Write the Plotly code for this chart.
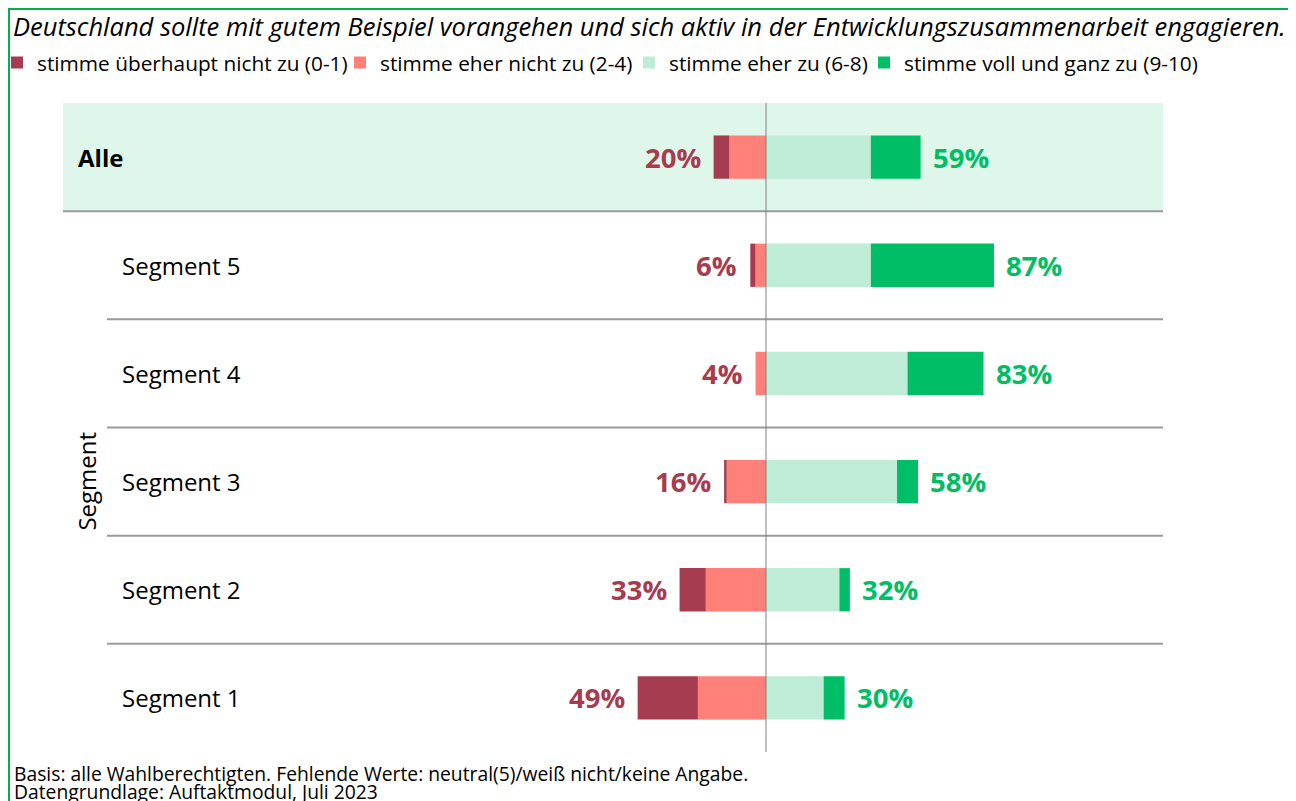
import plotly.graph_objects as go

# ---- data ----
categories = ["Segment 1", "Segment 2", "Segment 3", "Segment 4", "Segment 5", "Alle"]
stark_ablehnung = [23, 10, 1, 0, 2, 6]      # stimme überhaupt nicht zu (0-1)
eher_ablehnung = [26, 23, 15, 4, 4, 14]     # stimme eher nicht zu (2-4)
eher_zustimmung = [22, 28, 50, 54, 40, 40]  # stimme eher zu (6-8)
volle_zustimmung = [8, 4, 8, 29, 47, 19]    # stimme voll und ganz zu (9-10)

series_names = ["stimme überhaupt nicht zu (0-1)", "stimme eher nicht zu (2-4)",
                "stimme eher zu (6-8)", "stimme voll und ganz zu (9-10)"]
title_text = "Deutschland sollte mit gutem Beispiel vorangehen und sich aktiv in der Entwicklungszusammenarbeit engagieren."
footnote_lines = ["Basis: alle Wahlberechtigten. Fehlende Werte: neutral(5)/weiß nicht/keine Angabe.",
                  "Datengrundlage: Auftaktmodul, Juli 2023"]
axis_title = "Segment"

# ---- style ----
C_DARKRED = "#A63C4F"
C_RED = "#FF7F79"
C_LGREEN = "#BEECD6"
C_GREEN = "#00BE65"
FONT = "Open Sans"
OFF = 8  # page body margin
W, H = 1296 - OFF, 801 - OFF
ML, MR, MT, MB = 63 - OFF, 1296 - 1163, 103 - OFF, 801 - 752
PW, PH = W - ML - MR, H - MT - MB
XMIN, XMAX = -268.3, 151.5


def px(x):  # page x -> paper x
    return (x - OFF - ML) / PW


def py(y):  # page y -> paper y
    return (H - MB - (y - OFF)) / PH


ypos = list(range(len(categories)))

fig = go.Figure()
# negative side: nearest to zero first
fig.add_trace(go.Bar(y=ypos, x=[-v for v in eher_ablehnung], orientation="h",
                     name=series_names[1], marker_color=C_RED, legend="legend2",
                     width=0.4, marker_line_width=0, showlegend=True))
fig.add_trace(go.Bar(y=ypos, x=[-v for v in stark_ablehnung], orientation="h",
                     name=series_names[0], marker_color=C_DARKRED, legend="legend",
                     width=0.4, marker_line_width=0, showlegend=True))
fig.add_trace(go.Bar(y=ypos, x=eher_zustimmung, orientation="h",
                     name=series_names[2], marker_color=C_LGREEN, legend="legend3",
                     width=0.4, marker_line_width=0, showlegend=True))
fig.add_trace(go.Bar(y=ypos, x=volle_zustimmung, orientation="h",
                     name=series_names[3], marker_color=C_GREEN, legend="legend4",
                     width=0.4, marker_line_width=0, showlegend=True))

shapes = []
n = len(categories)
# Alle highlight band
shapes.append(dict(type="rect", xref="paper", yref="y", x0=0, x1=1,
                   y0=n - 1.5, y1=n - 0.5, fillcolor="#DFF6EA", line_width=0, layer="below"))
# separators
for i in range(n - 1):
    x0 = 0 if i == n - 2 else px(107)
    shapes.append(dict(type="line", xref="paper", yref="y", x0=x0, x1=1,
                       y0=i + 0.5, y1=i + 0.5, line=dict(color="#9A9A9A", width=2), layer="below"))
# center line
shapes.append(dict(type="line", xref="x", yref="paper", x0=0, x1=0, y0=0, y1=1,
                   line=dict(color="#808080", width=1)))
# outer border
shapes.append(dict(type="rect", xref="paper", yref="paper",
                   x0=px(OFF + 1), x1=px(1293), y0=py(830), y1=py(OFF + 1),
                   line=dict(color="#00B050", width=2), fillcolor="rgba(0,0,0,0)"))

annotations = []
for i, cat in enumerate(categories):
    is_all = (i == n - 1)
    annotations.append(dict(xref="paper", yref="y", x=px(76) if is_all else px(120),
                            y=i, text=f"<b>{cat}</b>" if is_all else cat, showarrow=False,
                            xanchor="left", yanchor="middle",
                            font=dict(family=FONT, size=24, color="#000000")))
    neg = stark_ablehnung[i] + eher_ablehnung[i]
    pos = eher_zustimmung[i] + volle_zustimmung[i]
    annotations.append(dict(xref="x", yref="y", x=-neg, y=i, text=f"<b>{neg}%</b>",
                            showarrow=False, xanchor="right", yanchor="middle", xshift=-11,
                            font=dict(family=FONT, size=27.5, color=C_DARKRED)))
    annotations.append(dict(xref="x", yref="y", x=pos, y=i, text=f"<b>{pos}%</b>",
                            showarrow=False, xanchor="left", yanchor="middle", xshift=10,
                            font=dict(family=FONT, size=27.5, color=C_GREEN)))

# y-axis title
annotations.append(dict(xref="paper", yref="y", x=px(87), y=2,
                        text=axis_title, textangle=-90, showarrow=False,
                        xanchor="center", yanchor="middle",
                        font=dict(family=FONT, size=24, color="#000000")))
# footnote lines
for line, yc in zip(footnote_lines, [773, 791]):
    annotations.append(dict(xref="paper", yref="paper", x=px(12),
                            y=py(yc), text=line, showarrow=False,
                            xanchor="left", yanchor="middle", align="left",
                            font=dict(family=FONT, size=19.3, color="#000000")))

legend_style = dict(orientation="h", yref="container",
                    y=1 - (63 - OFF) / H, xanchor="left", yanchor="middle",
                    font=dict(family=FONT, size=20.8, color="#000000"),
                    bgcolor="rgba(0,0,0,0)", borderwidth=0, visible=True)
legend_text_x = [35, 378, 667, 902]  # page x where legend texts start


def lx_container(t):
    return (t - OFF - 40 + 2) / W


def lx_paper(t):
    return (t - OFF - 40 + 2 - ML) / PW


fig.update_layout(
    width=W, height=H,
    margin=dict(l=ML, r=MR, t=MT, b=MB, autoexpand=False),
    paper_bgcolor="white", plot_bgcolor="white",
    barmode="relative",
    showlegend=True,
    title=dict(text=f"<i>{title_text}</i>", x=(13 - OFF) / W, xanchor="left",
               y=1 - (27 - OFF) / H, yanchor="middle",
               font=dict(family=FONT, size=25.5, color="#000000")),
    legend=dict(legend_style, xref="paper", x=lx_paper(legend_text_x[0])),
    legend2=dict(legend_style, xref="container", x=lx_container(legend_text_x[1])),
    legend3=dict(legend_style, xref="container", x=lx_container(legend_text_x[2])),
    legend4=dict(legend_style, xref="container", x=lx_container(legend_text_x[3])),
    xaxis=dict(range=[XMIN, XMAX], visible=False, fixedrange=True),
    yaxis=dict(range=[-0.5, n - 0.5], visible=False, fixedrange=True),
    shapes=shapes, annotations=annotations,
)

fig.write_html("out.html")
